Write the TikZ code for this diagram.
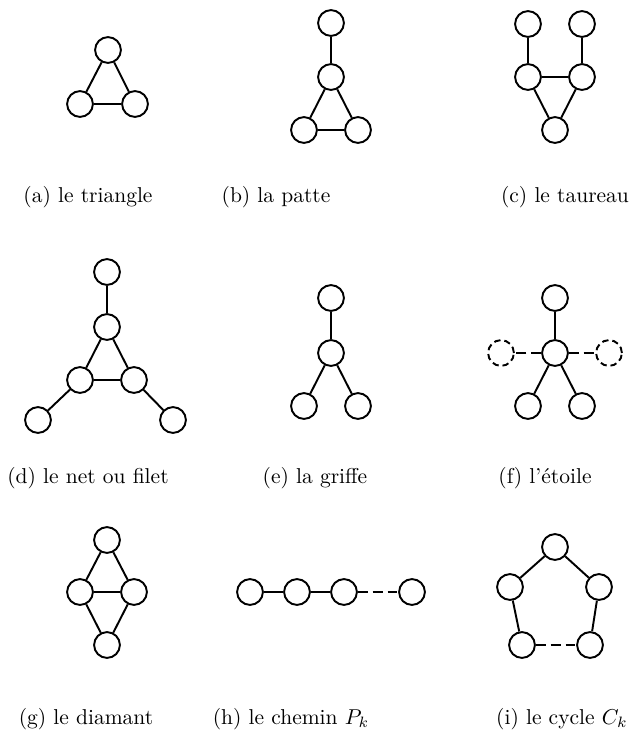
\documentclass[tikz,border=0pt]{standalone}
\begin{document}
\begin{tikzpicture}[x=0.4651pt,y=-0.4651pt,
  vtx/.style={circle,draw,line width=0.9pt,minimum size=12pt,inner sep=0pt},
  dvtx/.style={vtx,dash pattern=on 3pt off 1.8pt},
  edge/.style={line width=0.9pt},
  dedge/.style={line width=0.9pt,dash pattern=on 4.6pt off 2.3pt},
  captxt/.style={anchor=base,inner sep=0pt,font=\normalsize}]
\useasboundingbox (0,0) rectangle (637,736);
% (a)
\node[vtx] (a1) at (108,50) {};
\node[vtx] (a2) at (80,104) {};
\node[vtx] (a3) at (135,104) {};
\draw[edge] (a1)--(a2) (a1)--(a3) (a2)--(a3);
% (b)
\node[vtx] (b1) at (331,23) {};
\node[vtx] (b2) at (331,77) {};
\node[vtx] (b3) at (304,130) {};
\node[vtx] (b4) at (358,130) {};
\draw[edge] (b1)--(b2) (b2)--(b3) (b2)--(b4) (b3)--(b4);
% (c)
\node[vtx] (c1) at (528,24) {};
\node[vtx] (c2) at (582,24) {};
\node[vtx] (c3) at (528,77) {};
\node[vtx] (c4) at (582,77) {};
\node[vtx] (c5) at (555,130) {};
\draw[edge] (c1)--(c3) (c2)--(c4) (c3)--(c4) (c3)--(c5) (c4)--(c5);
% (d)
\node[vtx] (d1) at (107,272) {};
\node[vtx] (d2) at (107,327) {};
\node[vtx] (d3) at (80,380) {};
\node[vtx] (d4) at (134,380) {};
\node[vtx] (d5) at (38,420) {};
\node[vtx] (d6) at (173,420) {};
\draw[edge] (d1)--(d2) (d2)--(d3) (d2)--(d4) (d3)--(d4) (d3)--(d5) (d4)--(d6);
% (e)
\node[vtx] (e1) at (331,298) {};
\node[vtx] (e2) at (331,353) {};
\node[vtx] (e3) at (304,406) {};
\node[vtx] (e4) at (358,406) {};
\draw[edge] (e1)--(e2) (e2)--(e3) (e2)--(e4);
% (f)
\node[vtx] (f1) at (555,298) {};
\node[vtx] (f2) at (555,353) {};
\node[dvtx] (fl) at (501,353) {};
\node[dvtx] (fr) at (609,353) {};
\node[vtx] (f3) at (528,406) {};
\node[vtx] (f4) at (582,406) {};
\draw[edge] (f1)--(f2) (f2)--(f3) (f2)--(f4);
\draw[dedge] (f2)--(fl) (f2)--(fr);
% (g)
\node[vtx] (g1) at (107,540) {};
\node[vtx] (g2) at (80,592) {};
\node[vtx] (g3) at (134,592) {};
\node[vtx] (g4) at (107,645) {};
\draw[edge] (g1)--(g2) (g1)--(g3) (g2)--(g3) (g2)--(g4) (g3)--(g4);
% (h)
\node[vtx] (h1) at (250,592) {};
\node[vtx] (h2) at (297,592) {};
\node[vtx] (h3) at (344,592) {};
\node[vtx] (h4) at (412,592) {};
\draw[edge] (h1)--(h2) (h2)--(h3);
\draw[dedge] (h3)--(h4);
% (i)
\node[vtx] (i1) at (555,547) {};
\node[vtx] (i2) at (510,587) {};
\node[vtx] (i3) at (599,587) {};
\node[vtx] (i4) at (522,645) {};
\node[vtx] (i5) at (590,645) {};
\draw[edge] (i1)--(i2) (i1)--(i3) (i2)--(i4) (i3)--(i5);
\draw[dedge] (i4)--(i5);
% captions
\node[captxt] (ca) at (88,202) {(a) le triangle};
\node[captxt] (cb) at (276,202) {(b) la patte};
\node[captxt] (cc) at (565,202) {(c) le taureau};
\node[captxt] (cd) at (88,483) {(d) le net ou filet};
\node[captxt] (ce) at (315,483) {(e) la griffe};
\node[captxt] (cf) at (545,483) {(f) l’étoile};
\node[captxt] (cg) at (86,724) {(g) le diamant};
\node[captxt] (ch) at (291,724) {(h) le chemin $P_k$};
\node[captxt] (ci) at (562,724) {(i) le cycle $C_k$};
\end{tikzpicture}
\end{document}
